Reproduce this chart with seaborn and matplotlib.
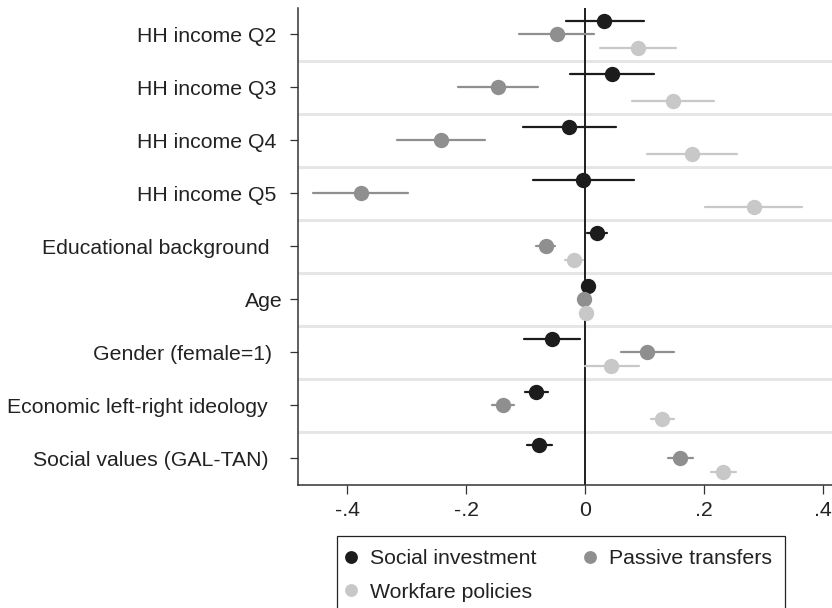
import matplotlib
matplotlib.use("Agg")
from matplotlib import pyplot as plt
from matplotlib.transforms import ScaledTranslation
import pandas as pd
import seaborn as sns

variables = ["HH income Q2", "HH income Q3", "HH income Q4", "HH income Q5",
             "Educational background", "Age", "Gender (female=1)",
             "Economic left-right ideology", "Social values (GAL-TAN)"]
series = ["Social investment", "Passive transfers", "Workfare policies"]

# point estimates and 95% CI bounds, same order as variables
si_coef = [0.032, 0.045, -0.027, -0.004, 0.020, 0.004, -0.056, -0.082, -0.077]
si_lo = [-0.033, -0.026, -0.104, -0.087, 0.003, 0.001, -0.102, -0.101, -0.098]
si_hi = [0.098, 0.116, 0.051, 0.082, 0.037, 0.007, -0.009, -0.062, -0.055]

pt_coef = [-0.048, -0.147, -0.243, -0.377, -0.066, -0.002, 0.104, -0.138, 0.160]
pt_lo = [-0.111, -0.213, -0.316, -0.457, -0.082, -0.005, 0.060, -0.157, 0.139]
pt_hi = [0.015, -0.079, -0.169, -0.297, -0.051, 0.001, 0.149, -0.119, 0.181]

wf_coef = [0.089, 0.148, 0.179, 0.284, -0.019, 0.002, 0.044, 0.129, 0.232]
wf_lo = [0.025, 0.079, 0.104, 0.202, -0.034, -0.001, 0.000, 0.110, 0.211]
wf_hi = [0.153, 0.217, 0.255, 0.365, -0.003, 0.005, 0.090, 0.150, 0.253]

x_ticks = [-0.4, -0.2, 0, 0.2, 0.4]
x_ticklabels = ["-.4", "-.2", "0", ".2", ".4"]

colors = ["#1c1c1c", "#8f8f8f", "#c8c8c8"]
# Stata-style ragged right edge of the y labels (pixels)
label_shift = [-6, -6, -6, -6, -13, 0, -10, -15, -14]

# long table: lo / coef / hi rows so median = coef and 100% interval = CI
rows = []
for name, coef, lo, hi in [(series[0], si_coef, si_lo, si_hi),
                           (series[1], pt_coef, pt_lo, pt_hi),
                           (series[2], wf_coef, wf_lo, wf_hi)]:
    for i, var in enumerate(variables):
        for v in (lo[i], coef[i], hi[i]):
            rows.append({"variable": var, "model": name, "value": v})
df = pd.DataFrame(rows)

plt.close("all")
sns.set_theme(style="white")
plt.rcParams["font.family"] = ["Liberation Sans", "DejaVu Sans"]
plt.rcParams["text.color"] = "#222222"

fig, ax = plt.subplots(figsize=(8.32, 6.08), dpi=100)
fig.subplots_adjust(left=0.3585, right=1.0, top=0.987, bottom=0.2026)

for k in range(len(variables) - 1):
    ax.axhline(k + 0.5, color="#e6e6e6", lw=2.2, zorder=0)
ax.axvline(0, color="#1e1e1e", lw=1.4, zorder=1)

sns.pointplot(
    data=df, x="value", y="variable", hue="model",
    order=variables, hue_order=series, palette=colors,
    estimator="median", errorbar=("pi", 100),
    orient="h", dodge=0.5, linestyle="none", markers="o",
    markersize=9, err_kws={"linewidth": 1.6}, ax=ax,
)

ax.set_xlim(-0.482, 0.4146)
ax.set_ylim(len(variables) - 0.5, -0.5)
ax.set_xticks(x_ticks)
ax.set_xticklabels(x_ticklabels)
ax.set_xlabel("")
ax.set_ylabel("")

for side in ["top", "right"]:
    ax.spines[side].set_visible(False)
for side in ["left", "bottom"]:
    ax.spines[side].set_color("#333333")
    ax.spines[side].set_linewidth(1.1)

ax.tick_params(axis="x", bottom=True, length=6.5, width=0.9, color="#333333",
               pad=5, labelsize=15.3, labelcolor="#222222")
ax.tick_params(axis="y", left=True, length=5.5, width=0.9, color="#333333",
               pad=5.8, labelsize=15.3, labelcolor="#222222")

for lab, dx in zip(ax.get_yticklabels(), label_shift):
    lab.set_transform(lab.get_transform() + ScaledTranslation(dx / 100, 0, fig.dpi_scale_trans))

handles, labels = ax.get_legend_handles_labels()
ax.legend_.remove()
# legend fills column by column; reorder so it reads row by row
order = [0, 2, 1]
leg = fig.legend(
    [handles[i] for i in order], [labels[i] for i in order],
    loc="upper left", bbox_to_anchor=(337 / 832, 1 - 536 / 608), borderaxespad=0,
    ncol=2, frameon=True, fancybox=False, edgecolor="#222222", framealpha=1,
    fontsize=15.3, handlelength=0.1, handletextpad=0.85, columnspacing=2.45,
    borderpad=0.62, labelspacing=0.69, markerscale=0.8,
)
leg.get_frame().set_linewidth(0.9)

plt.savefig("out.png", dpi=100)
